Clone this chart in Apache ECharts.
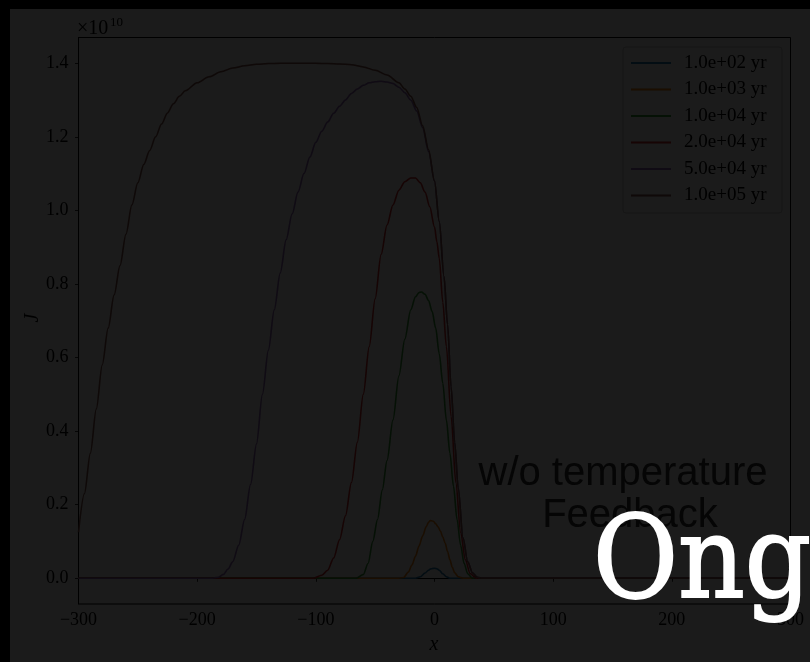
<!DOCTYPE html>
<html>
<head>
<meta charset="utf-8">
<script src="https://cdn.jsdelivr.net/npm/echarts@6/dist/echarts.min.js"></script>
<style>
html,body{margin:0;padding:0;background:#000;}
#main{width:810px;height:662px;}
</style>
</head>
<body>
<div id="main"></div>
<script>
// values of J in units of 1e10
const seriesNames = ['1.0e+02 yr','1.0e+03 yr','1.0e+04 yr','2.0e+04 yr','5.0e+04 yr','1.0e+05 yr'];
const xTicks = [-300,-200,-100,0,100,200,300];
const yTicks = [0,0.2,0.4,0.6,0.8,1.0,1.2,1.4];

const x1e2 = [-300,-16,-12,-8,-5,-3,0,2,4,7,10,13,300];
const y1e2 = [0,0,0.004,0.014,0.022,0.026,0.027,0.026,0.022,0.012,0.004,0,0];

const x1e3 = [-300,-30,-26,-22,-19,-16,-13,-10,-7,-5,-3.5,-1,1,3,5,7,9,11,13,15,17,20,24,300];
const y1e3 = [0,0,0.002,0.017,0.036,0.06,0.088,0.115,0.14,0.152,0.157,0.155,0.148,0.14,0.128,0.112,0.095,0.073,0.05,0.03,0.015,0.004,0,0];

const x1e4 = [-300,-66,-60,-56,-52,-48,-44,-40,-35,-30,-25,-20,-16,-13,-11,-8,-5,-2,1,4,7,10,13,16,19,22,25,28,32,300];
const y1e4 = [0,0,0.01,0.04,0.1,0.16,0.24,0.32,0.43,0.55,0.65,0.73,0.765,0.777,0.778,0.772,0.755,0.725,0.68,0.61,0.53,0.43,0.34,0.25,0.16,0.09,0.04,0.012,0,0];

const x2e4 = [-300,-102,-95,-90,-85,-80,-75,-70,-65,-60,-55,-50,-45,-40,-35,-30,-25,-20,-16,-12,-8,-4,0,2,4,7,10,14,18,22,26,30,35,300];
const y2e4 = [0,0,0.008,0.022,0.055,0.105,0.17,0.26,0.37,0.5,0.63,0.76,0.88,0.96,1.015,1.055,1.078,1.088,1.088,1.075,1.05,1.01,0.955,0.915,0.87,0.75,0.63,0.44,0.26,0.125,0.05,0.013,0,0];

const x5e4 = [-300,-188,-182,-178,-174,-170,-165,-160,-155,-150,-145,-140,-135,-130,-125,-120,-115,-110,-105,-100,-95,-90,-85,-80,-75,-70,-65,-60,-55,-50,-45,-40,-35,-30,-25,-20,-15,-10,-5,0,4,8,11,14,17,20,24,28,32,36,40,300];
const y5e4 = [0,0,0.003,0.01,0.025,0.045,0.09,0.16,0.255,0.365,0.5,0.62,0.73,0.83,0.92,0.99,1.05,1.10,1.145,1.185,1.215,1.24,1.264,1.283,1.30,1.318,1.33,1.34,1.347,1.35,1.351,1.349,1.345,1.335,1.32,1.30,1.27,1.225,1.16,1.08,0.97,0.82,0.69,0.52,0.37,0.245,0.11,0.045,0.015,0.003,0,0];

const x1e5 = [-300,-295,-290,-285,-280,-275,-270,-265,-260,-255,-250,-245,-240,-235,-230,-225,-220,-215,-210,-200,-190,-180,-170,-160,-150,-140,-130,-120,-110,-100,-90,-80,-70,-60,-50,-40,-30,-25,-20,-15,-10,-5,0,4,8,11,14,17,20,24,28,32,36,40,300];
const y1e5 = [0.125,0.23,0.34,0.46,0.58,0.68,0.77,0.85,0.935,1.015,1.075,1.125,1.163,1.20,1.235,1.265,1.29,1.31,1.325,1.347,1.363,1.377,1.387,1.393,1.397,1.399,1.40,1.40,1.40,1.40,1.399,1.398,1.396,1.39,1.381,1.368,1.347,1.33,1.31,1.28,1.23,1.165,1.08,0.97,0.82,0.69,0.52,0.37,0.245,0.11,0.045,0.015,0.003,0,0];

const seriesX = [x1e2,x1e3,x1e4,x2e4,x5e4,x1e5];
const seriesY = [y1e2,y1e3,y1e4,y2e4,y5e4,y1e5];
const colors = ['#030d13','#1b0e01','#051105','#170404','#100b14','#0f0908'];

const serif = '"Liberation Serif", "DejaVu Serif", serif';
const chart = echarts.init(document.getElementById('main'), null, {renderer:'canvas'});

const series = seriesNames.map((name,i)=>({
  name: name,
  type: 'line',
  data: seriesX[i].map((x,j)=>[x, seriesY[i][j]]),
  showSymbol: false,
  symbol: 'none',
  smooth: 0.3,
  smoothMonotone: 'x',
  color: colors[i],
  lineStyle: {width: 1.5, color: colors[i]},
  clip: true,
  z: 3
}));

chart.setOption({
  animation: false,
  backgroundColor: '#1b1b1b',
  grid: {left: 78.5, top: 37.5, width: 712, height: 566.5, show: true, borderColor: '#000', borderWidth: 1, backgroundColor: 'transparent'},
  xAxis: {
    type: 'value', min: -300, max: 300, interval: 100,
    axisLine: {show: true, lineStyle: {color: '#000', width: 1}},
    axisTick: {show: true, inside: false, length: 3.5, lineStyle: {color: '#000', width: 0.8}},
    axisLabel: {color: '#000', fontFamily: serif, fontSize: 18, margin: 7,
      formatter: v => String(v).replace('-', '\u2212')},
    splitLine: {show: false}
  },
  yAxis: {
    type: 'value', min: -0.07, max: 1.47,
    axisLine: {show: true, onZero: false, lineStyle: {color: '#000', width: 1}},
    axisTick: {show: true, inside: false, length: 3.5, lineStyle: {color: '#000', width: 0.8}, customValues: yTicks},
    axisLabel: {color: '#000', fontFamily: serif, fontSize: 18, margin: 10, customValues: yTicks,
      formatter: v => v.toFixed(1)},
    splitLine: {show: false}
  },
  legend: {
    orient: 'vertical', left: 631, top: 53, padding: 0,
    itemWidth: 40, itemHeight: 2, itemGap: 6.5, icon: 'rect',
    textStyle: {color: '#000', fontFamily: serif, fontSize: 19, lineHeight: 20, padding: [0,0,0,8]},
    data: seriesNames
  },
  graphic: [
    {type: 'rect', z: 100, silent: true, shape: {x: 0, y: 0, width: 810, height: 9}, style: {fill: '#000'}},
    {type: 'rect', z: 100, silent: true, shape: {x: 0, y: 0, width: 10, height: 662}, style: {fill: '#000'}},
    {type: 'rect', z: 0, silent: true, shape: {x: 623, y: 47, width: 159, height: 166, r: 3}, style: {fill: '#1b1b1b', stroke: '#161616', lineWidth: 1}},
    {type: 'text', x: 77, y: 29, style: {text: '\u00d710', font: '20px ' + serif, fill: '#000', textAlign: 'left', textVerticalAlign: 'middle'}},
    {type: 'text', x: 110, y: 23, style: {text: '10', font: '13px ' + serif, fill: '#000', textAlign: 'left', textVerticalAlign: 'middle'}},
    {type: 'text', x: 33, y: 318, rotation: Math.PI/2, style: {text: 'J', font: 'italic 20px ' + serif, fill: '#000', textAlign: 'center', textVerticalAlign: 'middle'}},
    {type: 'text', x: 434, y: 645, style: {text: 'x', font: 'italic 20px ' + serif, fill: '#000', textAlign: 'center', textVerticalAlign: 'middle'}},
    {type: 'text', x: 623, y: 474, z: 50, style: {text: 'w/o temperature', font: '40px "Liberation Sans", Arial, sans-serif', fill: '#050505', textAlign: 'center', textVerticalAlign: 'middle'}},
    {type: 'text', x: 630, y: 516, z: 50, style: {text: 'Feedback', font: '40px "Liberation Sans", Arial, sans-serif', fill: '#050505', textAlign: 'center', textVerticalAlign: 'middle'}},
    {type: 'text', x: 593, y: 624, z: 200, scaleX: 0.91, style: {text: 'Ong', font: '114px "DejaVu Serif", serif', fill: '#ffffff', stroke: '#ffffff', lineWidth: 2, textAlign: 'left', textVerticalAlign: 'bottom'}}
  ],
  series: series
});
</script>
</body>
</html>
